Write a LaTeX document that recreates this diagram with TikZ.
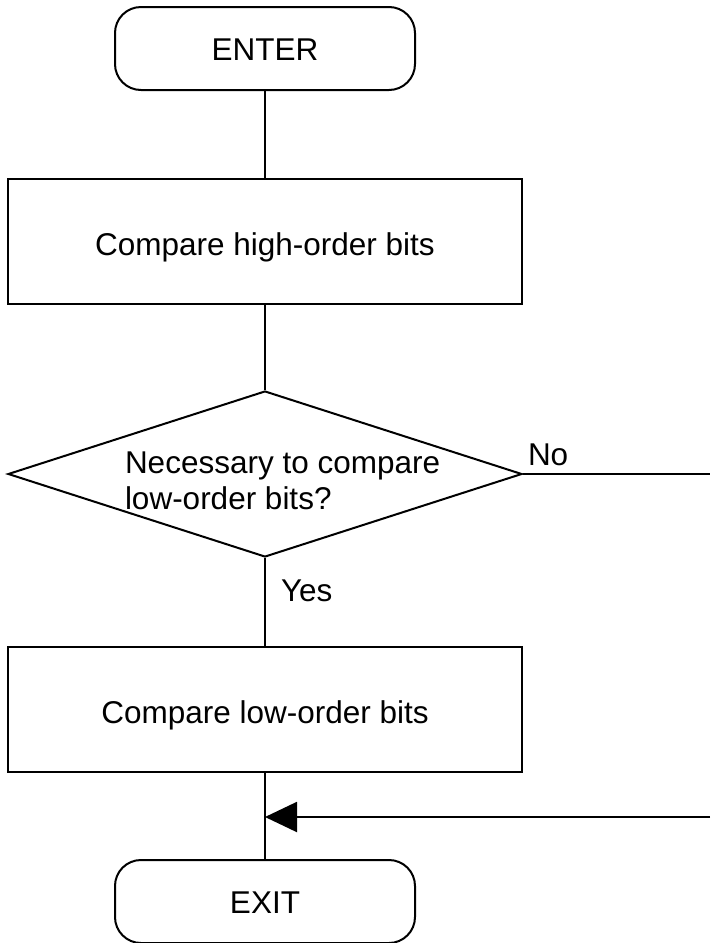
\documentclass[tikz,border=0pt]{standalone}
\usepackage{fontspec}
\setmainfont{Liberation Sans}
\usetikzlibrary{shapes.geometric,arrows.meta}
\begin{document}
\begin{tikzpicture}[x=1pt,y=-1pt,
  line width=2pt,
  every node/.style={font=\fontsize{31.5}{36}\selectfont},
  term/.style={draw, rounded corners=26pt, minimum width=300pt, minimum height=83pt, inner sep=0pt, text height=24pt, text depth=0pt},
  proc/.style={draw, minimum width=514pt, minimum height=125pt, inner sep=0pt, text height=27pt, text depth=0pt},
  dec/.style={draw, diamond, minimum width=514pt, minimum height=166pt, inner sep=0pt},
  lbl/.style={inner sep=0pt},
  arr/.style={-{Triangle[length=32pt,width=30pt]}}
]
\useasboundingbox (0,0) rectangle (710,943);
\node[term] (enter) at (265,48.5) {ENTER};
\node[proc] (high) at (265,241.5) {Compare high-order bits};
\node[dec] (dec) at (265,474) {};
\node[lbl, align=left, anchor=north west] (dtext) at (124,451) {Necessary to compare\\low-order bits?};
\node[proc] (low) at (265,709.5) {Compare low-order bits};
\node[term] (exit) at (265,901.5) {EXIT};
\node[lbl, anchor=west] (no) at (527,455) {No};
\node[lbl, anchor=west] (yes) at (280,591) {Yes};
\coordinate (noend) at (710,474);
\coordinate (retstart) at (710,817);
\coordinate (join) at (265,817);
\draw (enter) -- (high);
\draw (high) -- (dec);
\draw (dec.east) -- (noend);
\draw (dec) -- (low);
\draw (low) -- (exit);
\draw[arr] (retstart) -- (join);
\end{tikzpicture}
\end{document}
